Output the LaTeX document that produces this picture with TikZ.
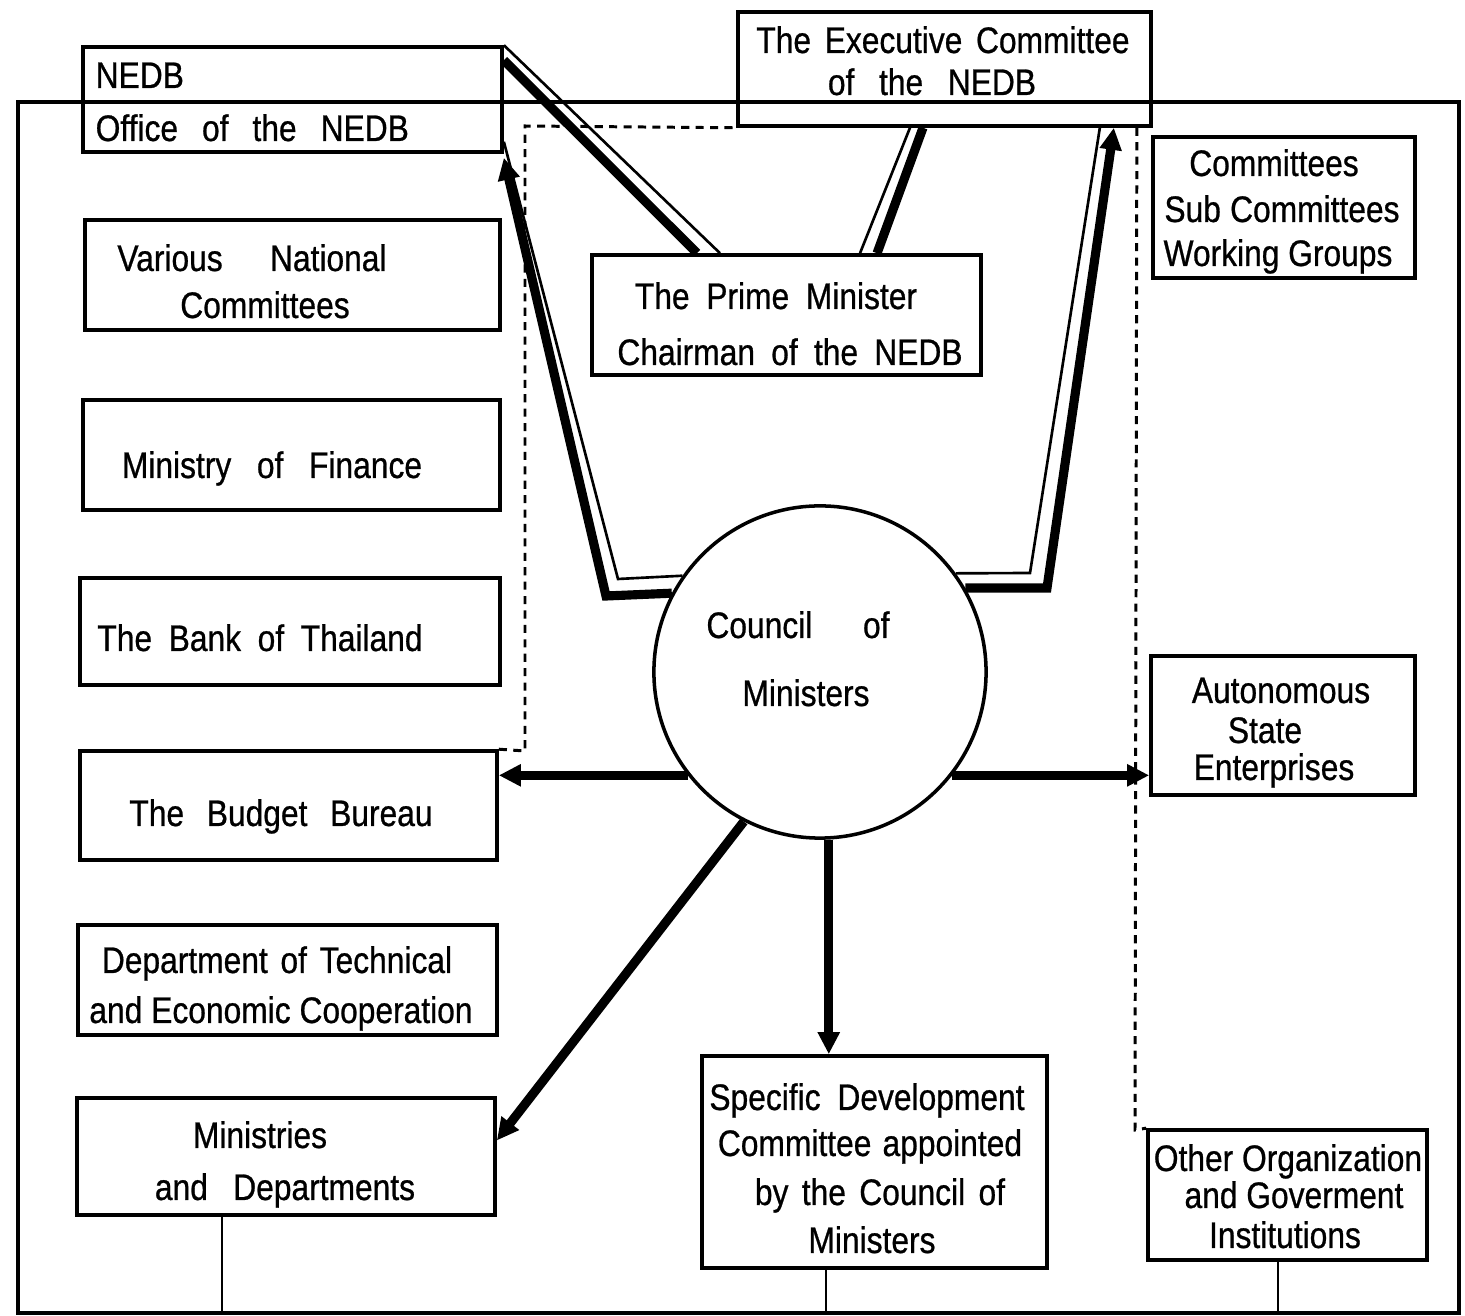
\documentclass[tikz,border=0pt]{standalone}
\usepackage{fontspec}
\setmainfont{Liberation Sans}[FakeStretch=0.86,FakeBold=0.7]
\usetikzlibrary{arrows.meta,calc}
\newcommand{\fillw}[2]{\makebox[#1][s]{#2}}
\begin{document}
\begin{tikzpicture}[x=0.01cm, y=-0.01cm,
  box/.style={draw, line width=1pt, rectangle, inner sep=0pt},
  txt/.style={inner sep=0pt, anchor=base, font=\fontsize{10.5}{12}\selectfont},
  heavy/.style={line width=2.6pt, -{Triangle[length=0.22cm,width=0.21cm]}},
  heavyline/.style={line width=2.6pt},
  fine/.style={line width=0.75pt},
  dsh/.style={line width=0.85pt, dash pattern=on 2.3pt off 1.8pt},
  tie/.style={line width=0.55pt}]
\useasboundingbox (0,0) rectangle (1465,1316);

% outer frame
\node[draw, line width=1.1pt, minimum width=14.41cm, minimum height=12.11cm, inner sep=0pt] (frame) at (738.5,707.5) {};

% boxes
\node[box, minimum width=4.19cm, minimum height=1.05cm] (nedb) at (292.5,99.5) {};
\node[box, minimum width=4.13cm, minimum height=1.14cm] (exec) at (944.5,69) {};
\node[box, minimum width=2.62cm, minimum height=1.41cm] (comm) at (1284,207.5) {};
\node[box, minimum width=4.15cm, minimum height=1.10cm] (vnc) at (292.5,275) {};
\node[box, minimum width=3.89cm, minimum height=1.20cm] (pm) at (786.5,315) {};
\node[box, minimum width=4.17cm, minimum height=1.10cm] (mof) at (291.5,455) {};
\node[box, minimum width=4.20cm, minimum height=1.07cm] (bot) at (290,631.5) {};
\node[box, minimum width=4.17cm, minimum height=1.09cm] (bb) at (288.5,805.5) {};
\node[box, minimum width=4.19cm, minimum height=1.10cm] (dtec) at (287.5,980) {};
\node[box, minimum width=4.18cm, minimum height=1.17cm] (mad) at (286,1156.5) {};
\node[box, minimum width=3.45cm, minimum height=2.12cm] (sdc) at (874.5,1162) {};
\node[box, minimum width=2.79cm, minimum height=1.30cm] (ooi) at (1287.5,1195) {};
\node[box, minimum width=2.64cm, minimum height=1.39cm] (ase) at (1283,725.5) {};
\node[circle, draw, line width=1pt, minimum size=3.32cm, inner sep=0pt] (council) at (820,672) {};

% texts
\node[txt, anchor=base west] (t1) at (95,88) {NEDB};
\node[txt, anchor=base west] (t2) at (95,141) {\fillw{3.13cm}{Office of the NEDB}};
\node[txt] (t3) at (943,53) {\fillw{3.73cm}{The Executive Committee}};
\node[txt] (t4) at (932,95) {\fillw{2.08cm}{of the NEDB}};
\node[txt] (t5) at (1274,176) {Committees};
\node[txt] (t6) at (1282,222) {\fillw{2.35cm}{Sub Committees}};
\node[txt] (t7) at (1278,266) {Working Groups};
\node[txt] (t8) at (252,271) {\fillw{2.69cm}{Various National}};
\node[txt] (t9) at (265,318) {Committees};
\node[txt] (t10) at (776,309) {\fillw{2.82cm}{The Prime Minister}};
\node[txt] (t11) at (790,365) {\fillw{3.45cm}{Chairman of the NEDB}};
\node[txt] (t12) at (272,478) {\fillw{3.00cm}{Ministry of Finance}};
\node[txt] (t13) at (260,651) {\fillw{3.25cm}{The Bank of Thailand}};
\node[txt] (t14) at (798,638) {\fillw{1.83cm}{Council of}};
\node[txt] (t15) at (806,706) {Ministers};
\node[txt] (t16) at (1281,703) {Autonomous};
\node[txt] (t17) at (1265,743) {State};
\node[txt] (t18) at (1274,780) {Enterprises};
\node[txt] (t19) at (281,826) {\fillw{3.03cm}{The Budget Bureau}};
\node[txt] (t20) at (277,973) {\fillw{3.50cm}{Department of Technical}};
\node[txt] (t21) at (281,1023) {\fillw{3.83cm}{and Economic Cooperation}};
\node[txt] (t22) at (260,1148) {Ministries};
\node[txt] (t23) at (285,1200) {\fillw{2.60cm}{and Departments}};
\node[txt] (t24) at (867,1110) {\fillw{3.15cm}{Specific Development}};
\node[txt] (t25) at (870,1156) {\fillw{3.04cm}{Committee appointed}};
\node[txt] (t26) at (880,1205) {\fillw{2.50cm}{by the Council of}};
\node[txt] (t27) at (872,1253) {Ministers};
\node[txt] (t28) at (1288,1171) {Other Organization};
\node[txt] (t29) at (1294,1208) {and Goverment};
\node[txt] (t30) at (1285,1248) {Institutions};

% helper coordinates
\coordinate (pa) at (697,0);
\coordinate (pb) at (720,0);
\coordinate (c1) at (222,0);
\coordinate (c2) at (826,0);
\coordinate (c3) at (1278,0);

% NEDB -- Prime Minister (double line)
\draw[heavyline] ([yshift=-0.15cm]nedb.north east) -- (pm.north -| pa);
\draw[fine] (nedb.north east) -- (pm.north -| pb);
% Executive Committee -- Prime Minister (double line)
\draw[heavyline] ([xshift=-0.215cm]exec.south) -- ([xshift=0.905cm]pm.north);
\draw[fine] ([xshift=-0.345cm]exec.south) -- ([xshift=0.735cm]pm.north);

% Council -> Office of the NEDB
\draw[heavy] (council.152.8) -- (606,596) -- ([yshift=-0.04cm]nedb.south east);
\draw[fine] (council.145.9) -- (618,579) -- ([yshift=0.12cm]nedb.south east);
% Council -> Executive Committee
\draw[heavy] (council.30.4) -- (1047,588) -- ([xshift=-0.39cm]exec.south east);
\draw[fine] (council.36.7) -- (1030,573) -- ([xshift=-0.53cm]exec.south east);

% Council -> others
\draw[heavy] (council.218.4) -- (council.218.4 -| bb.east);
\draw[heavy] (council.-38.4) -- (council.-38.4 -| ase.west);
\draw[heavy] (council.243.9) -- ([yshift=0.16cm]mad.east);
\draw[heavy] (council.-87) -- (council.-87 |- sdc.north);

% dashed links
\draw[dsh] (bb.north east) -- (525,751) -- (525,126) -- (exec.south west);
\draw[dsh] ([xshift=-0.16cm]exec.south east) -- (1135,1130) -- (ooi.north west);

% ties to frame bottom
\draw[tie] (mad.south -| c1) -- (c1 |- frame.south);
\draw[tie] (sdc.south -| c2) -- (c2 |- frame.south);
\draw[tie] (ooi.south -| c3) -- (c3 |- frame.south);
\end{tikzpicture}
\end{document}
